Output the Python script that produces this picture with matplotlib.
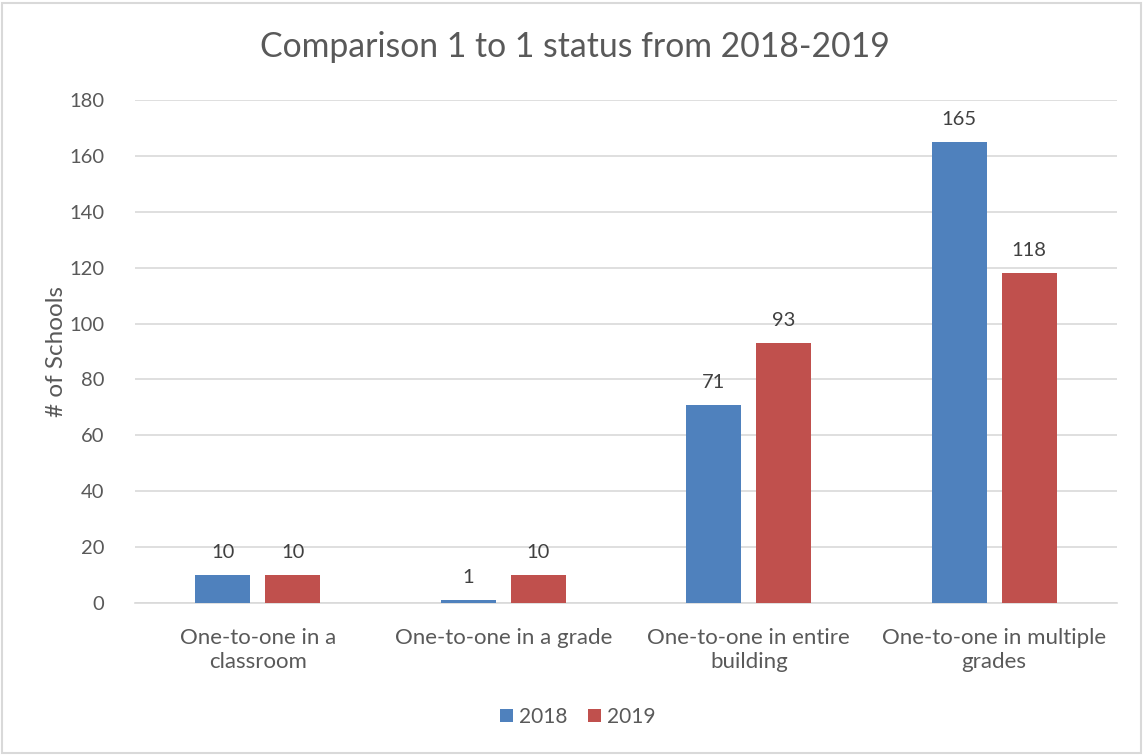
import matplotlib
matplotlib.use("Agg")
import matplotlib.pyplot as plt
from matplotlib.patches import Rectangle
import numpy as np

categories = ["One-to-one in a\nclassroom", "One-to-one in a grade",
              "One-to-one in entire\nbuilding", "One-to-one in multiple\ngrades"]
series_names = ["2018", "2019"]
values_2018 = [10, 1, 71, 165]
values_2019 = [10, 10, 93, 118]
yticks = [0, 20, 40, 60, 80, 100, 120, 140, 160, 180]

plt.rcParams['font.family'] = ['Lato', 'DejaVu Sans']
txt = '#595959'

W, H = 1144, 755
fig = plt.figure(figsize=(W/100, H/100), dpi=100)
ax = fig.add_axes([135/W, 1-603/H, (1117-135)/W, (603-100)/H])

x = np.arange(len(categories))
bw = 0.224
off = 0.142
b1 = ax.bar(x - off, values_2018, bw, color='#4F81BD', label=series_names[0], zorder=3)
b2 = ax.bar(x + off, values_2019, bw, color='#C0504D', label=series_names[1], zorder=3)
for bars, vals in ((b1, values_2018), (b2, values_2019)):
    for r, v in zip(bars, vals):
        ax.text(r.get_x() + r.get_width()/2, v + 5, str(v), ha='center', va='bottom',
                fontsize=14.5, color='#404040')

ax.set_xlim(-0.5, len(categories) - 0.5)
ax.set_ylim(0, 180)
ax.set_yticks(yticks)
ax.set_yticklabels([str(t) for t in yticks], fontsize=14.5, color=txt)
ax.set_xticks(x)
ax.set_xticklabels(categories, fontsize=16, color=txt, linespacing=1.25)
ax.tick_params(length=0, axis='both')
ax.tick_params(axis='y', pad=22)
ax.tick_params(axis='x', pad=18)
ax.grid(axis='y', color='#D9D9D9', linewidth=1.2, zorder=0)
for s in ['top', 'right', 'left']:
    ax.spines[s].set_visible(False)
ax.spines['bottom'].set_color('#D9D9D9')
ax.spines['bottom'].set_linewidth(1.2)
ax.set_ylabel('# of Schools', fontsize=17.5, color=txt, labelpad=2)

fig.text(575/W, 1-47/H, 'Comparison 1 to 1 status from 2018-2019', ha='center', va='center',
         fontsize=24.3, color=txt)

leg = fig.legend(handles=[b1, b2], labels=series_names, loc='center', bbox_to_anchor=(578/W, 1-717/H),
                 ncol=2, frameon=False, fontsize=15, handlelength=0.6, handleheight=0.6,
                 handletextpad=0.3, columnspacing=1.0)
for t in leg.get_texts():
    t.set_color(txt)

fig.patches.append(Rectangle((2/W, 2/H), 1-5/W, 1-5/H, transform=fig.transFigure,
                             fill=False, edgecolor='#D9D9D9', linewidth=1.5))
fig.savefig('out.png', dpi=100, facecolor='white')
